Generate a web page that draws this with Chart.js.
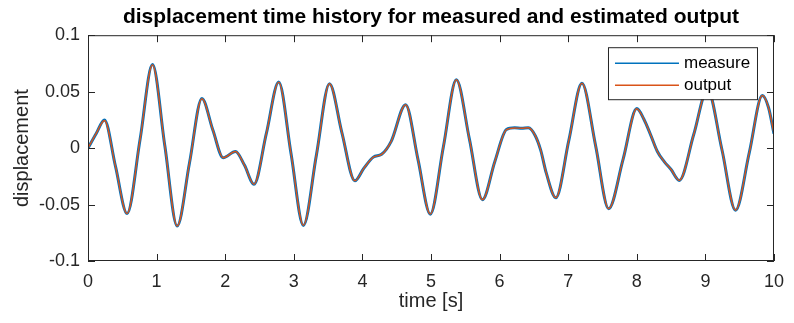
<!DOCTYPE html>
<html>
<head>
  <title>Displacement time history</title>
  <script src="https://cdn.jsdelivr.net/npm/chart.js"></script>
  <style>
    body { margin: 0; background: #fff; }
  </style>
</head>
<body>
  <canvas id="chart" width="794" height="323"></canvas>
  <script>
    // values
    const time = [0.00, 0.12, 0.24, 0.40, 0.57, 0.76, 0.94, 1.12, 1.30, 1.48, 1.66, 1.82, 1.97, 2.15, 2.28, 2.42,
      2.60, 2.78, 2.96, 3.14, 3.33, 3.52, 3.70, 3.89, 4.02, 4.16, 4.28, 4.42, 4.63, 4.81, 4.99, 5.18, 5.37,
      5.56, 5.75, 5.93, 6.10, 6.22, 6.32, 6.42, 6.52, 6.60, 6.68, 6.82, 7.01, 7.20, 7.40, 7.59, 7.80, 8.00,
      8.10, 8.20, 8.30, 8.40, 8.50, 8.62, 8.83, 9.03, 9.24, 9.44, 9.64, 9.83, 9.92, 10.00];
    const measure = [0.000, 0.013, 0.025, -0.016, -0.058, 0.008, 0.074, 0.002, -0.069, -0.013, 0.044, 0.016, -0.0085, -0.003, -0.015, -0.032,
      0.013, 0.0585, -0.005, -0.0685, -0.006, 0.057, 0.014, -0.029, -0.018, -0.008, -0.0055, 0.006, 0.0385, -0.010, -0.0585, 0.001, 0.0605,
      0.008, -0.0457, -0.012, 0.0165, 0.018, 0.0175, 0.018, 0.011, -0.002, -0.022, -0.044, 0.007, 0.0575, 0.002, -0.0537, -0.010, 0.035,
      0.026, 0.012, -0.003, -0.012, -0.019, -0.0286, 0.012, 0.052, -0.001, -0.055, -0.004, 0.0466, 0.036, 0.0127];
    const output = [0.000, 0.013, 0.0245, -0.016, -0.058, 0.008, 0.0738, 0.002, -0.069, -0.013, 0.0437, 0.016, -0.0085, -0.003, -0.015, -0.032,
      0.013, 0.0584, -0.005, -0.0684, -0.006, 0.057, 0.014, -0.029, -0.018, -0.008, -0.0056, 0.006, 0.0384, -0.010, -0.0585, 0.001, 0.0605,
      0.008, -0.0457, -0.012, 0.0163, 0.0178, 0.0176, 0.018, 0.011, -0.002, -0.022, -0.044, 0.007, 0.0575, 0.002, -0.0537, -0.010, 0.0349,
      0.026, 0.012, -0.003, -0.012, -0.019, -0.0286, 0.012, 0.052, -0.001, -0.055, -0.004, 0.0466, 0.036, 0.0127];
    const xTicks = [0, 1, 2, 3, 4, 5, 6, 7, 8, 9, 10];
    const yTicks = [-0.1, -0.05, 0, 0.05, 0.1];

    const axisColor = '#262626';
    const font = "'Liberation Sans', Arial, sans-serif";

    // box round the axes with inward tick marks, like matlab
    const axesBox = {
      id: 'axesBox',
      afterDatasetsDraw(chart) {
        const { ctx, chartArea: a, scales: { x, y } } = chart;
        ctx.save();
        ctx.strokeStyle = axisColor;
        ctx.lineWidth = 1;
        ctx.beginPath();
        xTicks.forEach(v => {
          const px = Math.round(x.getPixelForValue(v)) + 0.5;
          ctx.moveTo(px, a.bottom); ctx.lineTo(px, a.bottom - 7);
          ctx.moveTo(px, a.top); ctx.lineTo(px, a.top + 7);
        });
        yTicks.forEach(v => {
          const py = Math.round(y.getPixelForValue(v)) + 0.5;
          ctx.moveTo(a.left, py); ctx.lineTo(a.left + 7, py);
          ctx.moveTo(a.right, py); ctx.lineTo(a.right - 7, py);
        });
        ctx.stroke();
        ctx.strokeRect(a.left + 0.5, a.top + 0.5, a.right - a.left - 1, a.bottom - a.top - 1);
        ctx.restore();
      }
    };

    // legend box in the top right corner
    const boxLegend = {
      id: 'boxLegend',
      afterDraw(chart) {
        const { ctx, chartArea: a } = chart;
        const w = 149, h = 52;
        const left = a.right - 17 - w, top = a.top + 12;
        ctx.save();
        ctx.fillStyle = '#fff';
        ctx.fillRect(left, top, w, h);
        ctx.strokeStyle = axisColor;
        ctx.lineWidth = 1;
        ctx.strokeRect(left + 0.5, top + 0.5, w, h);
        ctx.font = '17px ' + font;
        ctx.textBaseline = 'middle';
        ctx.fillStyle = '#000';
        chart.data.datasets.forEach((ds, i) => {
          const yy = top + 16 + i * 22;
          ctx.strokeStyle = ds.borderColor;
          ctx.lineWidth = 1.5;
          ctx.beginPath();
          ctx.moveTo(left + 7, yy);
          ctx.lineTo(left + 71, yy);
          ctx.stroke();
          ctx.fillText(ds.label, left + 76, yy);
        });
        ctx.restore();
      }
    };

    const ctx = document.getElementById('chart').getContext('2d');
    const chart = new Chart(ctx, {
      type: 'line',
      data: {
        datasets: [
          { label: 'measure', data: time.map((t, i) => ({ x: t, y: measure[i] })), borderColor: '#0072BD',
            borderWidth: 3, pointRadius: 0, cubicInterpolationMode: 'monotone', order: 2 },
          { label: 'output', data: time.map((t, i) => ({ x: t, y: output[i] })), borderColor: '#D95319',
            borderWidth: 1.4, pointRadius: 0, cubicInterpolationMode: 'monotone', order: 1 }
        ]
      },
      options: {
        responsive: false,
        animation: false,
        layout: { padding: { right: 12 } },
        plugins: {
          legend: { display: false },
          tooltip: { enabled: false },
          title: {
            display: true,
            fullSize: false,
            text: 'displacement time history for measured and estimated output',
            color: '#000',
            font: { family: font, size: 21, weight: 'bold' },
            padding: { top: 5, bottom: 5 }
          }
        },
        scales: {
          x: {
            type: 'linear',
            min: 0,
            max: 10,
            afterBuildTicks: s => { s.ticks = xTicks.map(v => ({ value: v })); },
            afterFit: s => { s.height = 62; },
            grid: { display: false, drawTicks: false },
            border: { display: false },
            ticks: { color: axisColor, font: { family: font, size: 18 }, padding: 10, maxRotation: 0,
              callback: v => String(v) },
            title: { display: true, text: 'time [s]', color: axisColor,
              font: { family: font, size: 20 }, padding: { top: 0, bottom: 10 } }
          },
          y: {
            type: 'linear',
            min: -0.1,
            max: 0.1,
            afterBuildTicks: s => { s.ticks = yTicks.map(v => ({ value: v })); },
            afterFit: s => { s.width = 88; },
            grid: { display: false, drawTicks: false },
            border: { display: false },
            ticks: { color: axisColor, font: { family: font, size: 18 }, padding: 8,
              callback: v => String(v) },
            title: { display: true, text: 'displacement', color: axisColor,
              font: { family: font, size: 20 }, padding: { top: 10, bottom: 0 } }
          }
        }
      },
      plugins: [axesBox, boxLegend]
    });
  </script>
</body>
</html>
